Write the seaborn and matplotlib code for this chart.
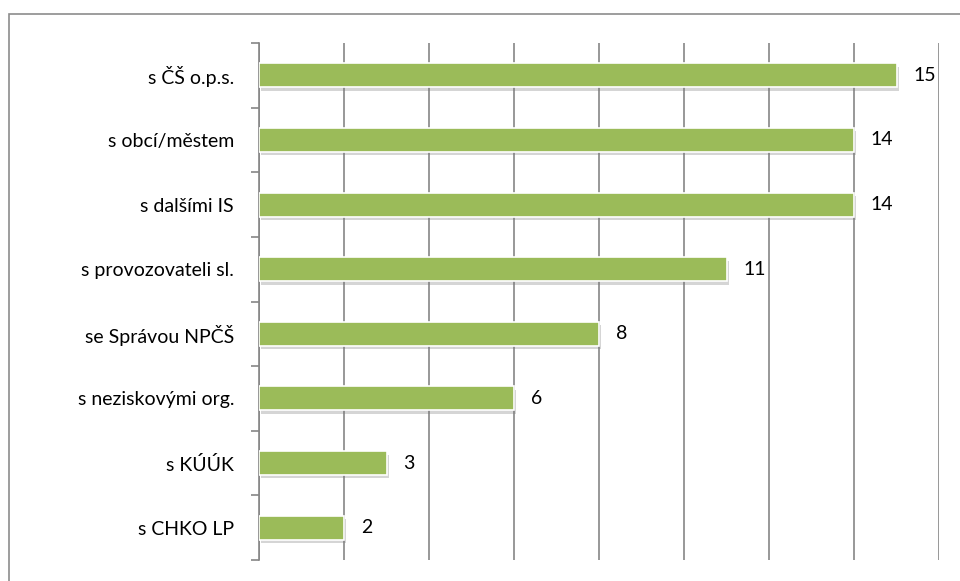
import matplotlib
matplotlib.use('Agg')
import matplotlib.pyplot as plt
import matplotlib.patheffects as pe
import seaborn as sns
import pandas as pd

# data
categories = ['s ČŠ o.p.s.', 's obcí/městem', 's dalšími IS', 's provozovateli sl.',
              'se Správou NPČŠ', 's neziskovými org.', 's KÚÚK', 's CHKO LP']
values = [15, 14, 14, 11, 8, 6, 3, 2]

df = pd.DataFrame({'partner': categories, 'count': values})

sns.set_style('white')
plt.rcParams['font.family'] = ['Lato', 'DejaVu Sans']

fig = plt.figure(figsize=(9.6, 5.81), dpi=100)
ax = fig.add_axes([259 / 960, 1 - 560 / 581, 680 / 960, 517 / 581])

# outer chart border (runs off the right and bottom edge in the original)
fig.add_artist(plt.Rectangle((9 / 960, -0.05), 1.0, 1 - 14 / 581 + 0.05,
                             transform=fig.transFigure, fill=False,
                             edgecolor='#8c8c8c', linewidth=1.2))

sns.barplot(data=df, x='count', y='partner', orient='h', color='#9bbb59',
            saturation=1, width=0.37, edgecolor='white', linewidth=1.2, ax=ax)

for bar in ax.patches:
    bar.set_path_effects([pe.SimplePatchShadow(offset=(1.5, -2.5), alpha=0.3, shadow_rgbFace='#777777'),
                          pe.Normal()])
    bar.set_zorder(3)

ax.bar_label(ax.containers[0], padding=12, fontsize=14, color='black')

ax.set_xlim(0, 16)
ax.set_xticks(range(0, 17, 2))
ax.set_xticklabels([])
ax.tick_params(axis='x', length=0)
ax.grid(axis='x', color='#868686', linewidth=1.2, zorder=0)
ax.set_axisbelow(True)

# category ticks sit on the band boundaries
ax.set_ylim(len(categories) - 0.5, -0.5)
ax.set_yticks([i - 0.5 for i in range(len(categories) + 1)], minor=False)
ax.set_yticklabels([])
ax.set_yticks(range(len(categories)), minor=True)
ax.set_yticklabels(categories, minor=True, fontsize=14, color='black')
ax.tick_params(axis='y', which='major', length=6, width=1.2, color='#868686', left=True)
ax.tick_params(axis='y', which='minor', length=0, pad=18, left=True)

for s in ['top', 'right', 'bottom']:
    ax.spines[s].set_visible(False)
ax.spines['left'].set_color('#868686')
ax.spines['left'].set_linewidth(1.2)

ax.set_xlabel('')
ax.set_ylabel('')

fig.savefig('out.png', dpi=100)
